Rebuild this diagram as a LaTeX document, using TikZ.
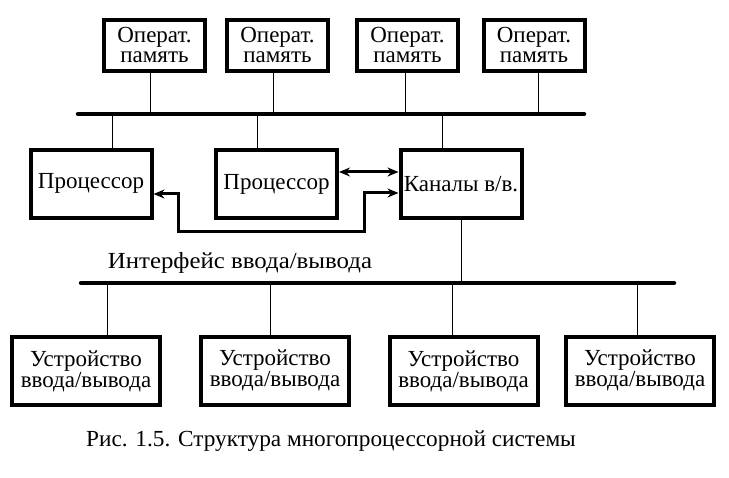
\documentclass[tikz,border=0pt]{standalone}
\usepackage{fontspec}
\setmainfont{Liberation Serif}
\usetikzlibrary{arrows.meta}

\begin{document}
\begin{tikzpicture}[
    x=1pt, y=-1pt, % pixel-like units
    >={Stealth[length=11pt,width=9pt]}, % arrow head style
    font=\fontsize{23}{20}\selectfont
    ]

    \tikzstyle{box}=[
        draw = black,
        line width = 4pt,
        inner sep = 0pt,
        align = center
    ]
    \tikzstyle{membox}=[box, minimum width=101pt, minimum height=51pt]
    \tikzstyle{procbox}=[box, minimum width=121pt, minimum height=68pt]
    \tikzstyle{devbox}=[box, minimum width=148pt, minimum height=68pt]
    \tikzstyle{bus}=[line width=4.5pt, line cap=round]
    \tikzstyle{link}=[line width=1pt]
    \tikzstyle{flow}=[line width=3pt, <->]

\useasboundingbox (0,0) rectangle (729,478);

% memory
\node[membox] (mem1) at (154.5,45.5) {Операт.\\память};
\node[membox] (mem2) at (277.5,45.5) {Операт.\\память};
\node[membox] (mem3) at (407.5,45.5) {Операт.\\память};
\node[membox] (mem4) at (534,45.5) {Операт.\\память};

% system bus
\coordinate (topL) at (78,114);
\coordinate (topR) at (584,114);
\draw[bus] (topL) -- (topR);

% processors and channels
\node[procbox] (proc1) at (91,184) {\raisebox{7pt}{Процессор}};
\node[procbox] (proc2) at (276.5,184) {\raisebox{3pt}{Процессор}};
\node[procbox] (chan) at (461,184) {Каналы в/в.};

% i/o bus
\coordinate (botL) at (81,283);
\coordinate (botR) at (674,283);
\draw[bus] (botL) -- (botR);
\node (iface) at (240,263) {\scalebox{1.08}[1]{Интерфейс ввода/вывода}};

% devices
\node[devbox] (dev1) at (86,371) {Устройство\\ввода/вывода};
\node[devbox] (dev2) at (275,371) {\raisebox{5pt}{\begin{tabular}{@{}c@{}}Устройство\\ввода/вывода\end{tabular}}};
\node[devbox] (dev3) at (463.5,371) {Устройство\\ввода/вывода};
\node[devbox] (dev4) at (640,371) {\raisebox{5pt}{\begin{tabular}{@{}c@{}}Устройство\\ввода/вывода\end{tabular}}};

\node (caption) at (331,441) {\scalebox{1.012}[1]{Рис. 1.5. Структура многопроцессорной системы}};

% links to the buses
\draw[link] ([xshift=-4.5pt]mem1.south) -- ([xshift=-4.5pt]mem1.south |- topL);
\draw[link] ([xshift=-4.5pt]mem2.south) -- ([xshift=-4.5pt]mem2.south |- topL);
\draw[link] ([xshift=-2.5pt]mem3.south) -- ([xshift=-2.5pt]mem3.south |- topL);
\draw[link] ([xshift=4pt]mem4.south) -- ([xshift=4pt]mem4.south |- topL);
\draw[link] ([xshift=21pt]proc1.north) -- ([xshift=21pt]proc1.north |- topL);
\draw[link] ([xshift=-19.5pt]proc2.north) -- ([xshift=-19.5pt]proc2.north |- topL);
\draw[link] ([xshift=-19pt]chan.north) -- ([xshift=-19pt]chan.north |- topL);
\draw[link] (chan.south) -- (chan.south |- botL);
\draw[link] ([xshift=21pt]dev1.north) -- ([xshift=21pt]dev1.north |- botL);
\draw[link] ([xshift=-5pt]dev2.north) -- ([xshift=-5pt]dev2.north |- botL);
\draw[link] ([xshift=-11.5pt]dev3.north) -- ([xshift=-11.5pt]dev3.north |- botL);
\draw[link] ([xshift=-3pt]dev4.north) -- ([xshift=-3pt]dev4.north |- botL);

% control flows
\coordinate (turn1) at (178,232);
\coordinate (turn2) at (364,193);
\draw[flow] ([yshift=12pt]proc2.east) -- ([yshift=12pt]proc2.east -| chan.west);
\draw[flow] ([yshift=-10pt]proc1.east) -| (turn1) -| (turn2) -- (turn2 -| chan.west);
\end{tikzpicture}
\end{document}
